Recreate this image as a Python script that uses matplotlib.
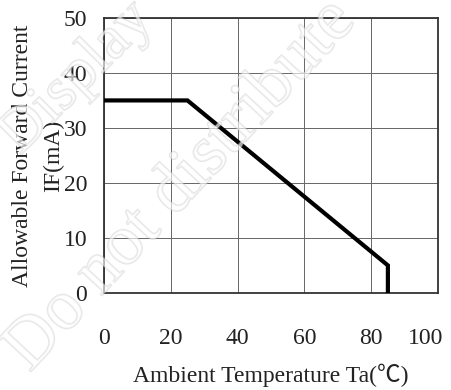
import matplotlib
matplotlib.use('Agg')
import matplotlib.pyplot as plt
import matplotlib.patheffects as pe
import matplotlib.transforms as mtransforms

# derating curve: allowable forward current vs ambient temperature
temp = [0, 25, 85, 85]
current = [35, 35, 5, 0]

x_ticks = [0, 20, 40, 60, 80, 100]
y_ticks = [0, 10, 20, 30, 40, 50]

serif = ['Liberation Serif', 'Noto Sans CJK SC', 'DejaVu Serif']
plt.rcParams['font.family'] = serif
fs = 17

fig = plt.figure(figsize=(4.52, 3.90), dpi=100)
ax = fig.add_axes([0.230, 0.249, 0.739, 0.705])

ax.plot(temp, current, color='black', linewidth=3.0, solid_joinstyle='miter', zorder=3)

ax.set_xlim(0, 100)
ax.set_ylim(0, 50)
ax.set_xticks(x_ticks)
ax.set_yticks(y_ticks)
ax.tick_params(length=0, labelsize=fs, colors='#222222')
ax.tick_params(axis='x', pad=25)
ax.tick_params(axis='y', pad=12)
ax.grid(True, color='#666666', linewidth=0.7)
for s in ax.spines.values():
    s.set_linewidth(1.3)
    s.set_color('#333333')

# last x label sits left of its grid line so it stays inside the figure
last = ax.get_xticklabels()[-1]
last.set_horizontalalignment('right')
last.set_transform(last.get_transform() + mtransforms.ScaledTranslation(5 / 100, 0, fig.dpi_scale_trans))

ax.set_xlabel('Ambient Temperature Ta(℃)', fontsize=fs, labelpad=11, color='#222222')

fig.text(0.049, 0.60, 'Allowable Forward Current', rotation=90, fontsize=fs,
         ha='center', va='center', color='#222222')
fig.text(0.118, 0.60, 'IF(mA)', rotation=90, fontsize=fs,
         ha='center', va='center', color='#222222')

# watermark
wm = [pe.withStroke(linewidth=1.3, foreground='#c0c0c0')]
fig.text(0.17, 0.80, 'Display', rotation=45, fontsize=44, color='white', alpha=0.4,
         ha='center', va='center', path_effects=wm, zorder=10)
fig.text(0.40, 0.525, 'Do not distribute', rotation=47, fontsize=51, color='white',
         alpha=0.4, ha='center', va='center', path_effects=wm, zorder=10)

fig.savefig('out.png', dpi=100)
